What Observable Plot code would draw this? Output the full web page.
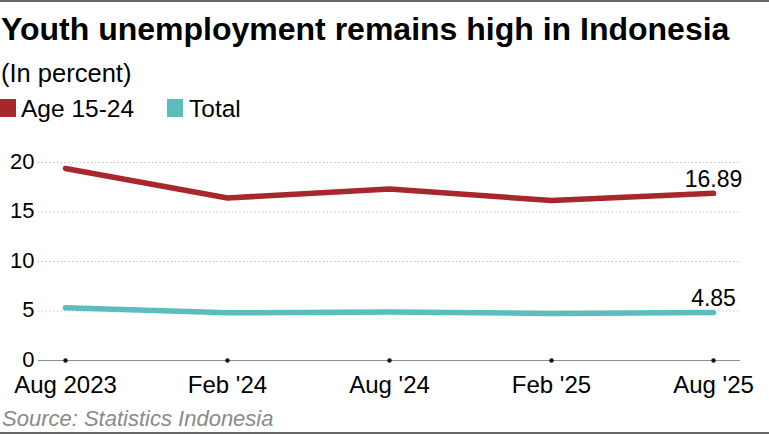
<!DOCTYPE html>
<html>
<head>
<meta charset="utf-8">
<script src="https://cdn.jsdelivr.net/npm/d3@7"></script>
<script src="https://cdn.jsdelivr.net/npm/@observablehq/plot@0.6"></script>
<style>
  html, body { margin: 0; padding: 0; background: #fff; }
  body { width: 769px; height: 434px; position: relative; overflow: hidden;
         font-family: "Liberation Sans", Arial, Helvetica, sans-serif; color: #000; }
  .abs { position: absolute; white-space: nowrap; line-height: 1.2; }
  #title { left: 1px; top: 9.8px; font-size: 32px; font-weight: bold; }
  #subtitle { left: 1px; top: 57.6px; font-size: 25.5px; }
  .sw { position: absolute; width: 16px; height: 18px; top: 99px; }
  .lg { top: 93.8px; font-size: 24.5px; }
  #source { left: 2px; top: 406px; font-size: 22px; font-style: italic; color: #8a8a8a; }
  #chart { position: absolute; left: 0; top: 140px; }
  .border { position: absolute; left: 0; width: 769px; height: 2px; background: #666; }
</style>
</head>
<body>
<div class="border" style="top:0"></div>
<div id="title" class="abs">Youth unemployment remains high in Indonesia</div>
<div id="subtitle" class="abs">(In percent)</div>
<div id="legend"></div>
<div id="chart"></div>
<div id="source" class="abs">Source: Statistics Indonesia</div>
<div class="border" style="top:432px"></div>
<script>
const dates = ["Aug 2023", "Feb '24", "Aug '24", "Feb '25", "Aug '25"];
const youth = [19.40, 16.42, 17.32, 16.16, 16.89];
const total = [5.32, 4.82, 4.91, 4.76, 4.85];
const seriesNames = ["Age 15-24", "Total"];
const seriesColors = ["#a8272c", "#5cbdbd"];
const yTicks = [0, 5, 10, 15, 20];
const endLabels = ["16.89", "4.85"];

const rows = [];
dates.forEach((d, i) => rows.push({date: d, value: youth[i], series: seriesNames[0]}));
dates.forEach((d, i) => rows.push({date: d, value: total[i], series: seriesNames[1]}));
const lastRows = [
  {date: dates[dates.length - 1], value: youth[youth.length - 1], label: endLabels[0]},
  {date: dates[dates.length - 1], value: total[total.length - 1], label: endLabels[1]}
];

// legend
const legend = document.getElementById("legend");
const legendPos = [{sw: 0, tx: 21}, {sw: 167, tx: 189}];
seriesNames.forEach((name, i) => {
  const s = document.createElement("div");
  s.className = "sw"; s.style.left = legendPos[i].sw + "px"; s.style.background = seriesColors[i];
  legend.appendChild(s);
  const t = document.createElement("div");
  t.className = "abs lg"; t.style.left = legendPos[i].tx + "px"; t.textContent = name;
  legend.appendChild(t);
});

const plot = Plot.plot({
  width: 769,
  height: 262,
  marginTop: 22,
  marginBottom: 42,
  marginLeft: 38,
  marginRight: 29,
  style: {fontFamily: "'Liberation Sans', Arial, Helvetica, sans-serif", color: "#000", background: "transparent"},
  x: {type: "point", domain: dates, padding: 0.16, label: null},
  y: {domain: [0, 20], label: null},
  color: {domain: seriesNames, range: seriesColors},
  marks: [
    Plot.gridY(yTicks.filter(t => t > 0), {stroke: "#b5b5b5", strokeOpacity: 1, strokeDasharray: "1.2,2.6", strokeWidth: 1.2}),
    Plot.ruleY([0], {stroke: "#8c8c8c", strokeWidth: 1.2}),
    Plot.axisY({ticks: yTicks, tickSize: 0, tickPadding: 4, fontSize: 22, dy: -1, label: null}),
    Plot.axisX({tickSize: 0, tickPadding: 15.5, fontSize: 24, label: null}),
    Plot.dot(dates, {x: d => d, y: () => 0, r: 2.2, fill: "#111", stroke: null}),
    Plot.line(rows, {x: "date", y: "value", z: "series", stroke: "series", strokeWidth: 5.5, strokeLinecap: "round", strokeLinejoin: "round"}),
    Plot.text(lastRows, {x: "date", y: "value", text: "label", lineAnchor: "bottom", dy: -6, fontSize: 23, fill: "#000"})
  ]
});
document.getElementById("chart").appendChild(plot);
</script>
</body>
</html>
